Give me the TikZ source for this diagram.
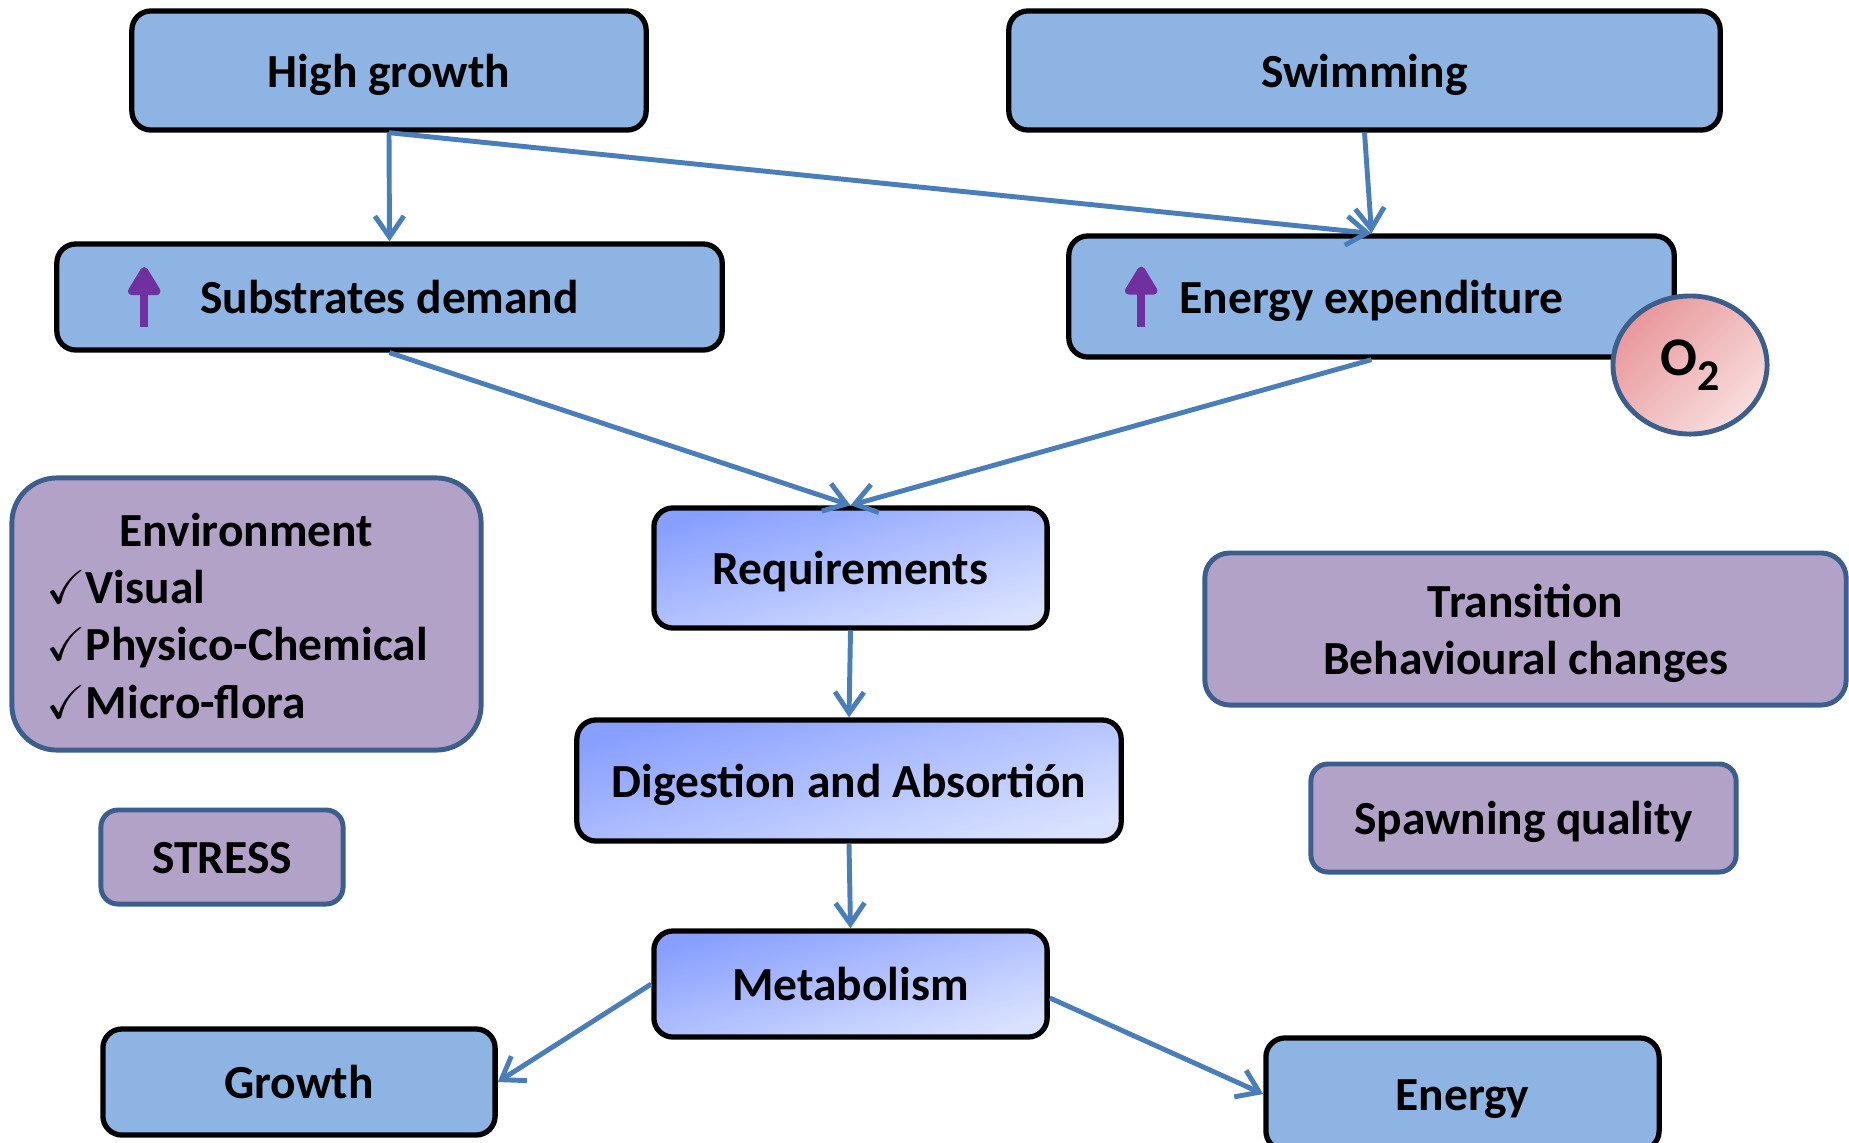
\documentclass[tikz,border=0pt]{standalone}
\usepackage{amssymb}
\usepackage{amsmath}
\usepackage{fontspec}
\setmainfont{Carlito}
\usepackage{xcolor}
\usepackage{tikz}
\usetikzlibrary{arrows.meta,shapes.geometric}

\definecolor{boxblue}{HTML}{8EB4E3}
\definecolor{linkblue}{HTML}{4A7EBB}
\definecolor{boxviolet}{HTML}{B3A2C7}
\definecolor{edgeviolet}{HTML}{3B5E8C}
\definecolor{upviolet}{HTML}{7030A0}
\definecolor{gradtop}{HTML}{889FFF}
\definecolor{gradbottom}{HTML}{D9E1FF}
\definecolor{otop}{HTML}{E8979A}
\definecolor{obottom}{HTML}{F8DEDE}

\begin{document}
\begin{tikzpicture}[->,>={Straight Barb[length=2.1mm,width=2.9mm]},x=0.01cm,y=-0.01cm,
   every node/.style={font=\bfseries\fontsize{13.5}{16.3}\selectfont},
   one line/.style={text height=12pt,text depth=2.6pt},
   blue box/.style={rectangle,rounded corners=0.19cm,draw=black,line width=1.5pt,fill=boxblue,one line},
   shaded box/.style={rectangle,rounded corners=0.19cm,draw=black,line width=1.5pt,one line,
      top color=gradtop,bottom color=gradbottom,shading angle=16},
   violet box/.style={rectangle,rounded corners=0.17cm,draw=edgeviolet,line width=1.4pt,fill=boxviolet},
   link/.style={draw=linkblue,line width=1.4pt},
   more/.style={draw=upviolet,line width=2.2pt,-{Triangle[length=3.2mm,width=3.6mm,round]}}]

  \useasboundingbox (0,0) rectangle (1849,1142);

  % top row
  \node[blue box,minimum width=5.14cm,minimum height=1.19cm] (highgrowth) at (389,70.5) {High growth};
  \node[blue box,minimum width=7.11cm,minimum height=1.19cm] (swimming) at (1364.5,70.5) {Swimming};

  \node[blue box,minimum width=6.65cm,minimum height=1.06cm] (substrates) at (389.5,297) {Substrates demand};
  \node[blue box,minimum width=6.05cm,minimum height=1.21cm] (expenditure) at (1371.5,296.5) {Energy expenditure};
  \node[ellipse,draw=edgeviolet,line width=1.4pt,top color=otop,bottom color=obottom,shading angle=45,
        minimum width=1.54cm,minimum height=1.38cm,inner sep=0pt,font=\bfseries\fontsize{15.5}{18}\selectfont] (oxygen) at (1690,365)
        {O\raisebox{-1.5mm}{\fontsize{12.5}{14}\selectfont 2}};

  \draw[more] ([xshift=0.9cm,yshift=-0.3cm]substrates.west) -- ++(0,-60);
  \draw[more] ([xshift=0.75cm,yshift=-0.3cm]expenditure.west) -- ++(0,-60);

  % middle column
  \node[shaded box,minimum width=3.93cm,minimum height=1.2cm] (requirements) at (850.5,568) {Requirements};
  \node[shaded box,minimum width=5.44cm,minimum height=1.21cm] (digestion) at (849,780.5) {Digestion and Absorti\'on};
  \node[shaded box,minimum width=3.93cm,minimum height=1.06cm] (metabolism) at (850.5,984) {Metabolism};

  \node[blue box,minimum width=3.92cm,minimum height=1.06cm] (growth) at (299,1082) {Growth};
  \node[blue box,minimum width=3.93cm,minimum height=1.12cm] (energy) at (1462.5,1094) {Energy};

  % side boxes
  \node[violet box,minimum width=4.69cm,minimum height=2.72cm,rounded corners=0.45cm,
        text height=38pt,text depth=27pt] (environment) at (246.5,614)
    {\begin{tabular}{@{}l@{}}\multicolumn{1}{@{}c@{}}{\kern0.19cm Environment}\\
      $\checkmark$Visual\\ $\checkmark$Physico-Chemical\\ $\checkmark$Micro-flora\end{tabular}\kern0.19cm};
  \node[violet box,one line,minimum width=2.42cm,minimum height=0.94cm] (stress) at (222,857) {STRESS};
  \node[violet box,minimum width=6.41cm,minimum height=1.52cm,rounded corners=0.25cm,align=center,
        text depth=0pt] (transition) at (1525.5,629)
    {Transition\\Behavioural changes};
  \node[violet box,one line,minimum width=4.25cm,minimum height=1.08cm] (spawning) at (1523.5,818) {Spawning quality};

  \foreach \from/\to in {highgrowth/substrates,highgrowth/expenditure,swimming/expenditure,
    substrates/requirements,expenditure/requirements,requirements/digestion,digestion/metabolism}
    \draw[link] (\from.south) -- (\to.north);
  \draw[link] (metabolism.west) -- (growth.east);
  \draw[link] (metabolism.-4) -- (energy.west);
\end{tikzpicture}
\end{document}
